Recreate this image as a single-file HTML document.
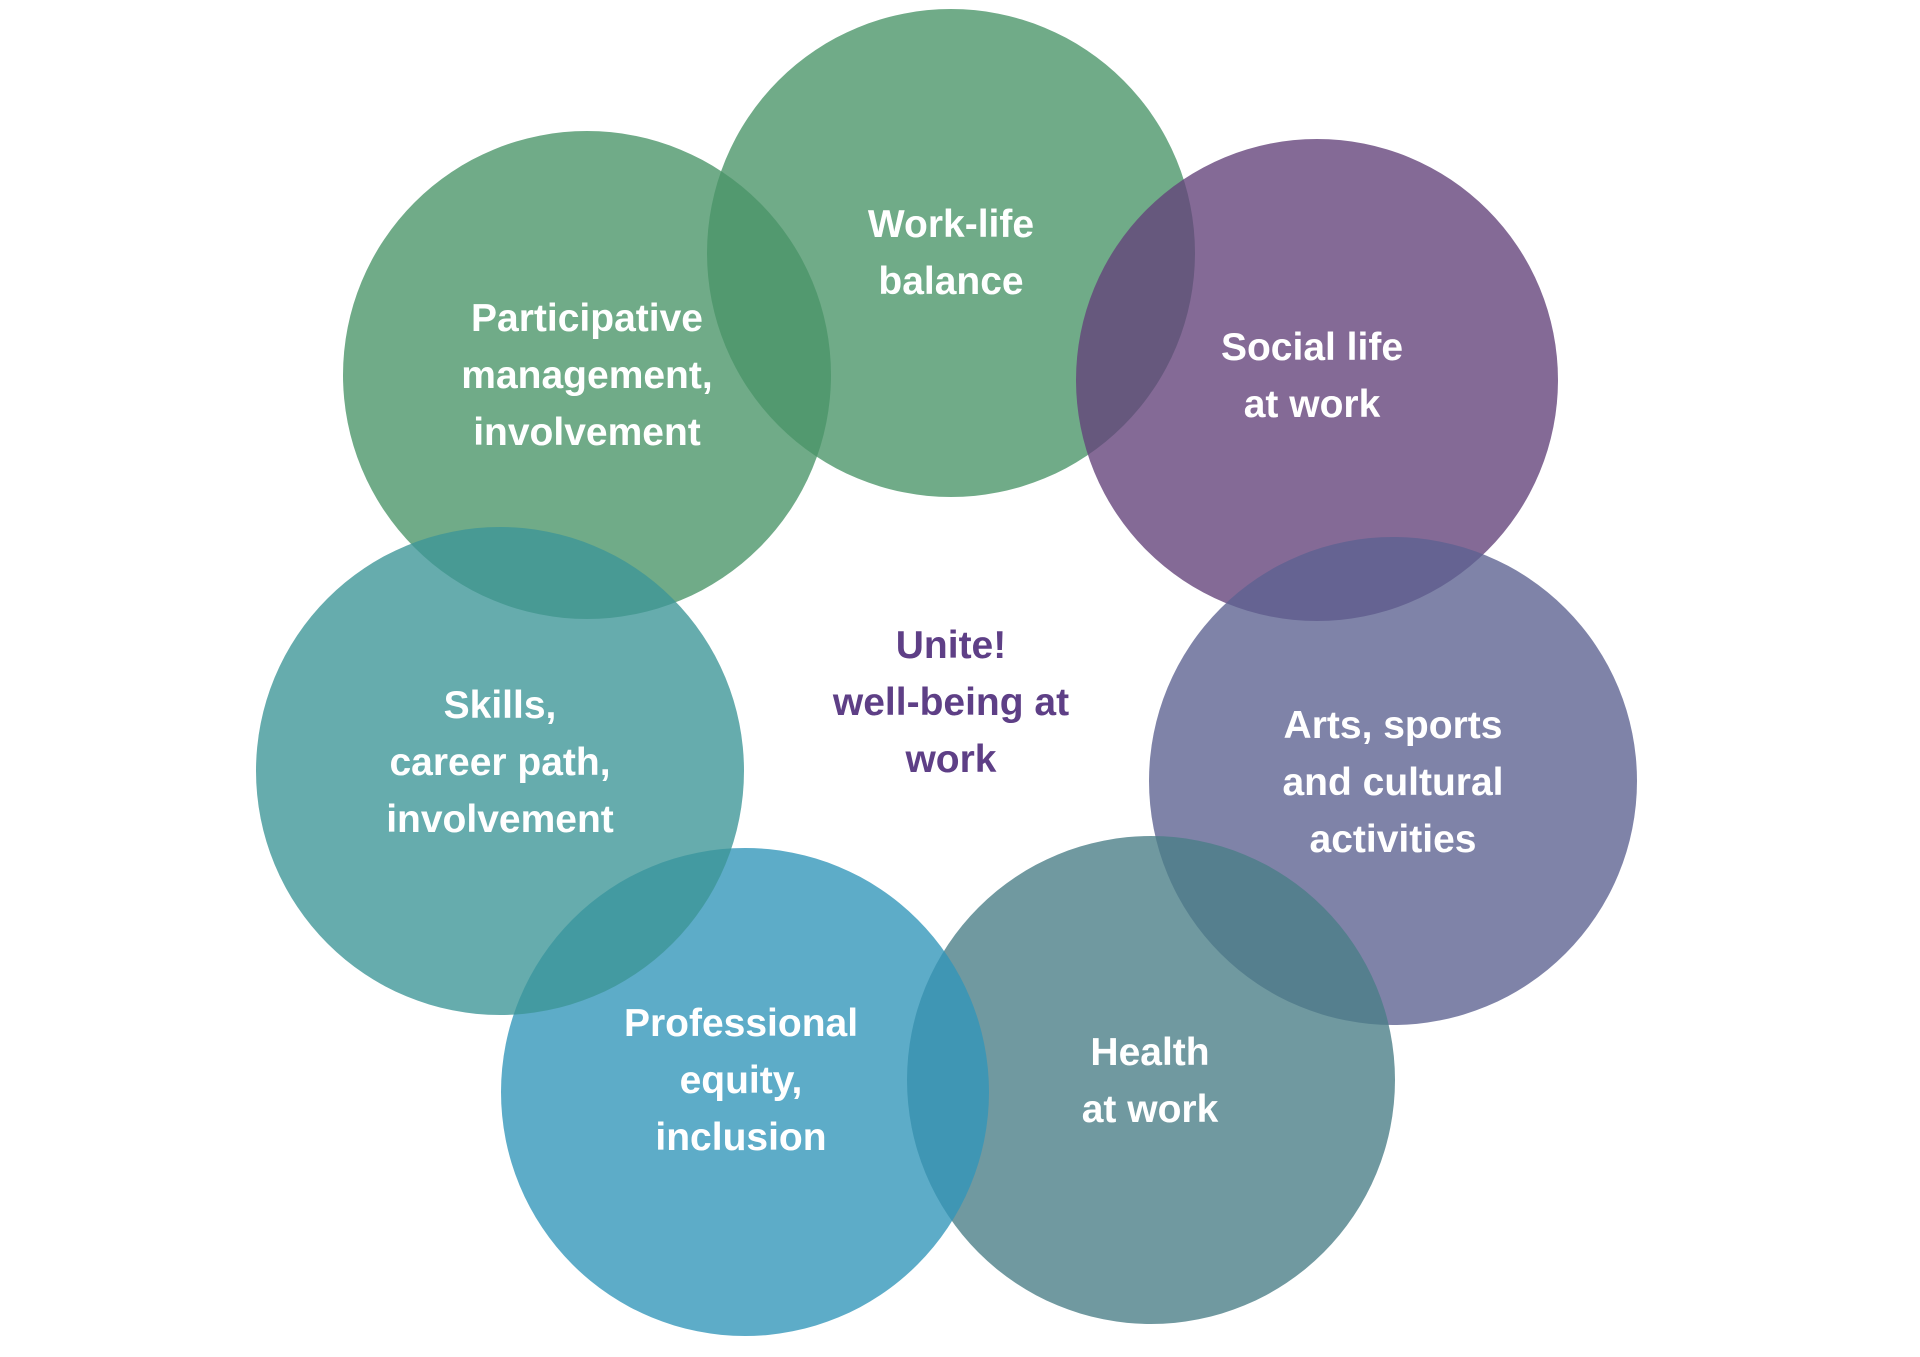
<!DOCTYPE html>
<html><head><meta charset="utf-8"><style>
html,body{margin:0;padding:0;background:#fff;}
body{width:1920px;height:1357px;position:relative;overflow:hidden;font-family:"Liberation Sans",sans-serif;}
.c{position:absolute;border-radius:50%;opacity:.79;}
.t{position:absolute;transform:translateX(-50%);text-align:center;color:#fff;font-weight:bold;font-size:39px;line-height:57px;white-space:nowrap;}
</style></head><body>
<div class="c" style="left:707px;top:9px;width:488px;height:488px;background:rgb(73,149,104)"></div>
<div class="c" style="left:343px;top:131px;width:488px;height:488px;background:rgb(73,149,104)"></div>
<div class="c" style="left:1076px;top:139px;width:482px;height:482px;background:rgb(99,66,122)"></div>
<div class="c" style="left:1149px;top:537px;width:488px;height:488px;background:rgb(93,98,145)"></div>
<div class="c" style="left:907px;top:836px;width:488px;height:488px;background:rgb(74,126,135)"></div>
<div class="c" style="left:501px;top:848px;width:488px;height:488px;background:rgb(50,150,185)"></div>
<div class="c" style="left:256px;top:527px;width:488px;height:488px;background:rgb(61,150,151)"></div>

<div class="t" style="left:951px;top:196px">Work-life<br>balance</div>
<div class="t" style="left:587px;top:290px">Participative<br>management,<br>involvement</div>
<div class="t" style="left:1312px;top:319px">Social life<br>at work</div>
<div class="t" style="left:1393px;top:697px">Arts, sports<br>and cultural<br>activities</div>
<div class="t" style="left:1150px;top:1024px">Health<br>at work</div>
<div class="t" style="left:741px;top:995px">Professional<br>equity,<br>inclusion</div>
<div class="t" style="left:500px;top:677px">Skills,<br>career path,<br>involvement</div>
<div class="t" style="left:951px;top:617px;color:#5e3f86">Unite!<br>well-being at<br>work</div>
</body></html>
